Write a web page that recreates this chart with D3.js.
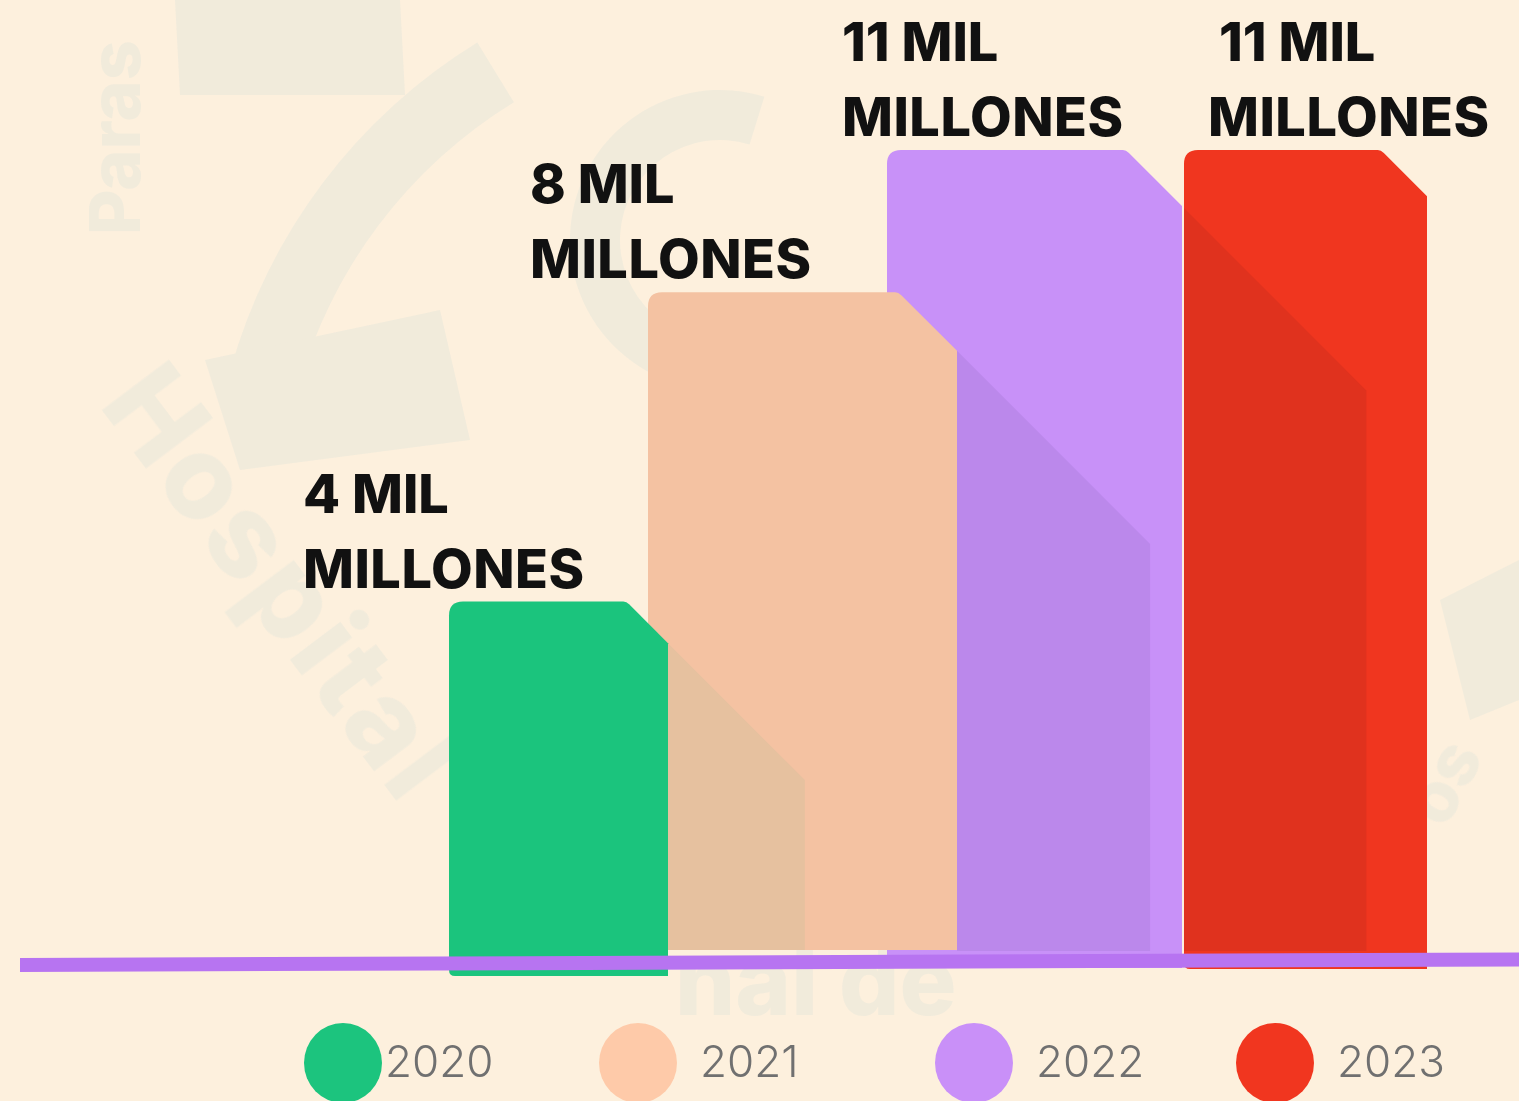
<!DOCTYPE html>
<html>
<head>
<meta charset="utf-8">
<script src="https://cdn.jsdelivr.net/npm/d3@7/dist/d3.min.js"></script>
<style>
  html, body { margin: 0; padding: 0; background: #fdf0dd; }
  #chart { width: 1519px; height: 1101px; overflow: hidden; }
</style>
</head>
<body>
<div id="chart"></div>
<script>
// data
var years = ["2020", "2021", "2022", "2023"];
var values = [4, 8, 11, 11];            // mil millones
var labelTop = ["4 MIL", "8 MIL", "11 MIL", "11 MIL"];
var labelBottom = ["MILLONES", "MILLONES", "MILLONES", "MILLONES"];

// colours
var barColors = ["#1bc47d", "#f4c2a2", "#c891f8", "#f0361f"];
var shadowColors = ["#e6c19f", "#bb88eb", "#e0321e"];   // shade of bar i cast on bar i+1
var legendColors = ["#1cc47e", "#fecaa9", "#c990f8", "#f1361f"];

// layout (pixels)
var barLeft = [449, 648, 887, 1184];
var barRight = [668, 957, 1182, 1427];
var barBottom = [976, 950, 968, 969];
var labelX = [303, 530, 842, 1208];
var labelX1 = [303, 530, 842, 1219];
var legendX = [343, 638, 974, 1275];

var svgWidth = 1519, svgHeight = 1101;
var baseline = 963, shadowBottom = 951;

var svg = d3.select("#chart").append("svg")
    .attr("width", svgWidth)
    .attr("height", svgHeight);

svg.append("rect")
    .attr("width", svgWidth)
    .attr("height", svgHeight)
    .attr("fill", "#fdf0dd");

// faint watermark of the logo behind the chart
var wm = svg.append("g").attr("fill", "#e9e8db").attr("opacity", 0.6);
wm.append("path")
    .attr("d", d3.arc()({innerRadius: 490, outerRadius: 560, startAngle: -1.3, endAngle: -0.55}))
    .attr("transform", "translate(770, 520)");
wm.append("path")
    .attr("d", d3.arc()({innerRadius: 100, outerRadius: 150, startAngle: -3.3, endAngle: 0.3}))
    .attr("transform", "translate(720, 240)");
wm.append("polygon").attr("points", "175,0 400,0 405,95 180,95");
wm.append("polygon").attr("points", "205,360 440,310 470,440 240,470");
wm.append("polygon").attr("points", "1440,600 1519,560 1519,700 1470,720");
wm.append("text")
    .attr("transform", "translate(98, 405) rotate(53)")
    .attr("font-family", "Inter, sans-serif").attr("font-weight", 800)
    .attr("font-size", 115).attr("letter-spacing", 4).text("Hospital");
wm.append("text")
    .attr("transform", "translate(140, 235) rotate(-90)")
    .attr("font-family", "Inter, sans-serif").attr("font-weight", 800)
    .attr("font-size", 70).text("Paras");
wm.append("text")
    .attr("x", 675).attr("y", 1015)
    .attr("font-family", "Inter, sans-serif").attr("font-weight", 800)
    .attr("font-size", 95).text("nal de");
wm.append("text")
    .attr("transform", "translate(1445, 830) rotate(-62)")
    .attr("font-family", "Inter, sans-serif").attr("font-weight", 800)
    .attr("font-size", 70).text("os");

// scales
var yScale = d3.scaleLog()
    .domain([1.78, 11])
    .range([baseline, 150]);

var xLeft = d3.scaleOrdinal().domain(years).range(barLeft);
var xRight = d3.scaleOrdinal().domain(years).range(barRight);
var yBottom = d3.scaleOrdinal().domain(years).range(barBottom);

var bars = years.map(function(y, i) {
  var L = xLeft(y), R = xRight(y), T = yScale(values[i]), B = yBottom(y);
  var w = R - L;
  return {year: y, i: i, L: L, R: R, T: T, B: B, w: w, c: 0.19 * w, sw: 0.625 * w};
});

function barPath(b) {
  var r = 14, rb = 6;
  return "M" + b.L + "," + (b.T + r) +
    "Q" + b.L + "," + b.T + " " + (b.L + r) + "," + b.T +
    "H" + (b.R - b.c - 3) +
    "Q" + (b.R - b.c) + "," + b.T + " " + (b.R - b.c + 3) + "," + (b.T + 3) +
    "L" + b.R + "," + (b.T + b.c) +
    "V" + b.B +
    "H" + (b.L + rb) +
    "Q" + b.L + "," + b.B + " " + b.L + "," + (b.B - rb) + "Z";
}

function shadowPath(b) {
  var sx = b.R, sy = b.T + b.c;
  return "M" + sx + "," + sy +
    "L" + (sx + b.sw) + "," + (sy + b.sw) +
    "V" + shadowBottom +
    "H" + sx + "Z";
}

var defs = svg.append("defs");
bars.forEach(function(b) {
  defs.append("clipPath").attr("id", "clip" + b.year)
    .append("path").attr("d", barPath(b));
});

// draw from last to first so earlier bars sit on top
var chartGroup = svg.append("g");
bars.slice().reverse().forEach(function(b) {
  chartGroup.append("path")
      .attr("d", barPath(b))
      .attr("fill", barColors[b.i]);
  if (b.i > 0) {
    var prev = bars[b.i - 1];
    chartGroup.append("path")
        .attr("d", shadowPath(prev))
        .attr("fill", shadowColors[b.i - 1])
        .attr("clip-path", "url(#clip" + b.year + ")");
  }
});

// baseline
svg.append("line")
    .attr("x1", 20).attr("y1", 965)
    .attr("x2", 1519).attr("y2", 959.5)
    .attr("stroke", "#b774f1")
    .attr("stroke-width", 14);

// value labels
var labels = svg.append("g")
    .attr("font-family", "Inter, sans-serif")
    .attr("font-weight", 800)
    .attr("font-size", 54)
    .attr("fill", "#111");

bars.forEach(function(b) {
  labels.append("text")
      .attr("x", labelX1[b.i])
      .attr("y", b.T - 89)
      .text(labelTop[b.i]);
  labels.append("text")
      .attr("x", labelX[b.i])
      .attr("y", b.T - 14)
      .attr("letter-spacing", 0.5)
      .text(labelBottom[b.i]);
});

// legend
var legend = svg.append("g");
years.forEach(function(y, i) {
  legend.append("ellipse")
      .attr("cx", legendX[i]).attr("cy", 1063)
      .attr("rx", 39).attr("ry", 40)
      .attr("fill", legendColors[i]);
  legend.append("text")
      .attr("x", legendX[i] + (i == 0 ? 42 : 62))
      .attr("y", 1077)
      .attr("font-family", "Inter, sans-serif")
      .attr("font-weight", 300)
      .attr("font-size", 44)
      .attr("fill", "#707070")
      .text(y);
});
</script>
</body>
</html>
